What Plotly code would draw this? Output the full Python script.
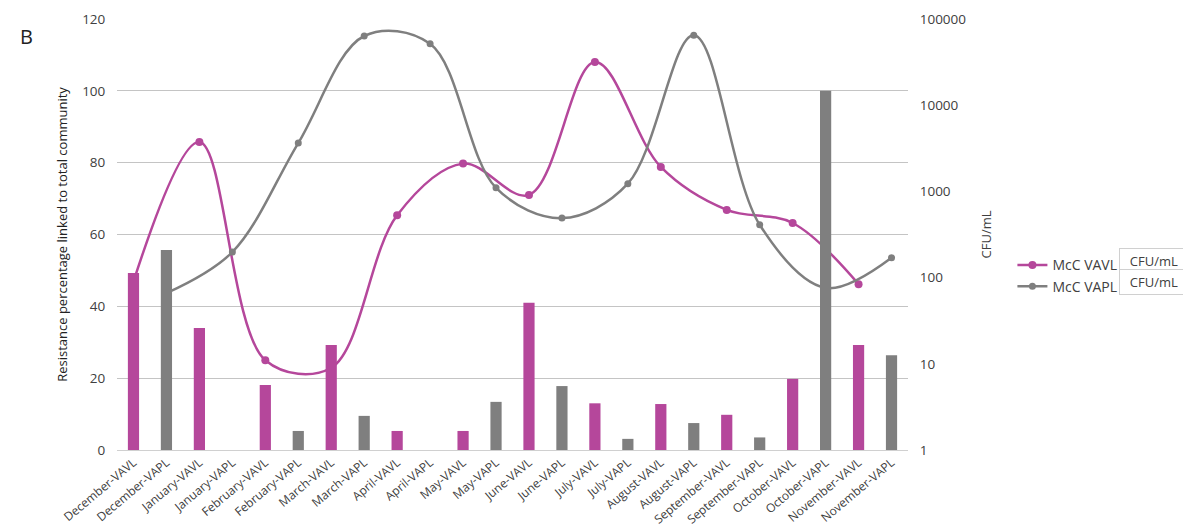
import plotly.graph_objects as go

categories = [
    "December-VAVL", "December-VAPL", "January-VAVL", "January-VAPL",
    "February-VAVL", "February-VAPL", "March-VAVL", "March-VAPL",
    "April-VAVL", "April-VAPL", "May-VAVL", "May-VAPL",
    "June-VAVL", "June-VAPL", "July-VAVL", "July-VAPL",
    "August-VAVL", "August-VAPL", "September-VAVL", "September-VAPL",
    "October-VAVL", "October-VAPL", "November-VAVL", "November-VAPL",
]
resistance_pct = [49.3, 55.7, 34, 0, 18.1, 5.3, 29.2, 9.5, 5.3, 0, 5.3, 13.4,
                  41, 17.8, 13, 3.1, 12.8, 7.5, 9.8, 3.5, 19.8, 100, 29.2, 26.4]

vavl_cats = categories[0::2]
vapl_cats = categories[1::2]
vavl_cfu = [90, 3750, 11, 9, 530, 2100, 910, 31700, 1920, 610, 430, 84]
vapl_cfu = [66, 198, 3640, 63500, 51500, 1100, 490, 1230, 65000, 410, 76, 170]

PURPLE = "#B5479B"
GREY = "#7F7F7F"
bar_colors = [PURPLE if c.endswith("VAVL") else GREY for c in categories]

fig = go.Figure()

# lines on log axis (y, drawn underneath)
fig.add_trace(go.Scatter(
    x=vavl_cats, y=vavl_cfu, name="McC VAVL", mode="lines+markers",
    line=dict(color=PURPLE, width=2.5, shape="spline", smoothing=1.0),
    marker=dict(color=PURPLE, size=8), yaxis="y"))
fig.add_trace(go.Scatter(
    x=vapl_cats, y=vapl_cfu, name="McC VAPL", mode="lines+markers",
    line=dict(color=GREY, width=2.5, shape="spline", smoothing=1.0),
    marker=dict(color=GREY, size=7), yaxis="y"))

# bars on linear overlay axis (y2, drawn on top)
fig.add_trace(go.Bar(
    x=categories, y=resistance_pct, marker=dict(color=bar_colors, line=dict(width=0)),
    showlegend=False, yaxis="y2"))

fig.update_layout(
    width=1191, height=526,
    margin=dict(l=109, r=291, t=11, b=84, autoexpand=False),
    plot_bgcolor="white", paper_bgcolor="white",
    font=dict(family="Open Sans, DejaVu Sans, sans-serif", color="#404040"),
    bargap=0.66,
    xaxis=dict(
        type="category", categoryorder="array", categoryarray=categories,
        range=[-0.5, len(categories) - 0.5],
        tickangle=-40, tickfont=dict(size=12, color="#404040"),
        showgrid=False, showline=True, linecolor="#D0D0D0", ticks="",
        automargin=False),
    yaxis=dict(
        type="log", range=[0, 5], side="right",
        tickvals=[1, 10, 100, 1000, 10000, 100000],
        ticktext=["1", "10", "100", "1000", "10000", "100000"],
        tickfont=dict(size=13.5, color="#404040"),
        showgrid=False, zeroline=False, ticks="outside", ticklen=8, tickcolor="white",
        title=dict(text="CFU/mL", font=dict(size=13, color="#404040"), standoff=16),
        automargin=False),
    yaxis2=dict(
        overlaying="y", side="left", range=[0, 120], dtick=20,
        tickfont=dict(size=13.5, color="#404040"),
        showgrid=True, gridcolor="#C4C4C4", gridwidth=1, zeroline=False,
        ticks="outside", ticklen=8, tickcolor="white",
        title=dict(text="Resistance percentage linked to total community",
                   font=dict(size=13, color="#222222"), standoff=11),
        automargin=False),
    legend=dict(x=1.132, y=0.4385 + 0.027, xanchor="left", yanchor="top",
                font=dict(size=14, color="#404040"), tracegroupgap=0,
                bgcolor="rgba(0,0,0,0)", itemwidth=30),
    showlegend=True,
)

fig.add_annotation(text="B", xref="paper", yref="paper", x=-0.125, y=0.96,
                   xanchor="left", yanchor="middle", showarrow=False,
                   font=dict(size=20, color="#222222"))

for yy in (0.4385, 0.3898):
    fig.add_annotation(text="&nbsp;&nbsp;CFU/mL", xref="paper", yref="paper", x=1.267, y=yy,
                       xanchor="left", yanchor="middle", showarrow=False,
                       width=70, align="left",
                       font=dict(size=13, color="#404040"),
                       bordercolor="#D0D0D0", borderwidth=1, borderpad=3,
                       bgcolor="white")

fig.write_html("out.html")
